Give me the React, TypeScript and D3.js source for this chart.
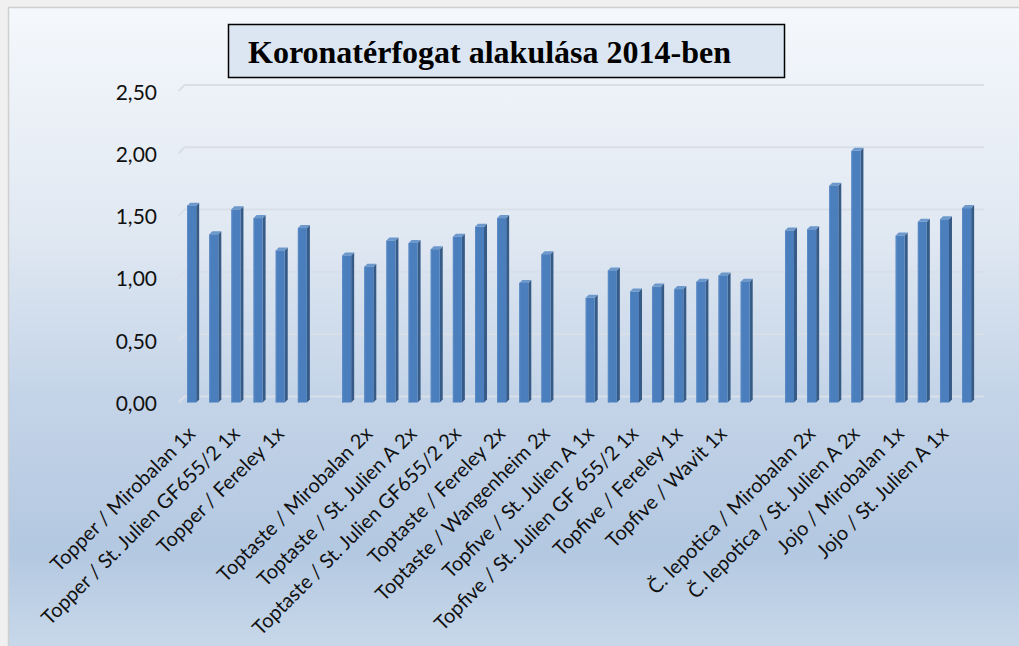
import React from 'react';
import * as d3 from 'd3';

// 36 slots on the category axis; '' / null = empty spacer between groups
const categories = [
  'Topper / Mirobalan 1x', 'Topper / Mirobalan 2x', 'Topper / St. Julien GF655/2 1x', 'Topper / St. Julien GF655/2 2x',
  'Topper / Fereley 1x', 'Topper / Fereley 2x', '',
  'Toptaste / Mirobalan 1x', 'Toptaste / Mirobalan 2x', 'Toptaste / St. Julien A 1x', 'Toptaste / St. Julien A 2x',
  'Toptaste / St. Julien GF655/2 1x', 'Toptaste / St. Julien GF655/2 2x', 'Toptaste / Fereley 1x', 'Toptaste / Fereley 2x',
  'Toptaste / Wangenheim 1x', 'Toptaste / Wangenheim 2x', '',
  'Topfive / St. Julien A 1x', 'Topfive / St. Julien A 2x', 'Topfive / St. Julien GF 655/2 1x', 'Topfive / St. Julien GF 655/2 2x',
  'Topfive / Fereley 1x', 'Topfive / Fereley 2x', 'Topfive / Wavit 1x', 'Topfive / Wavit 2x', '',
  'Č. lepotica / Mirobalan 1x', 'Č. lepotica / Mirobalan 2x', 'Č. lepotica / St. Julien A 1x', 'Č. lepotica / St. Julien A 2x', '',
  'Jojo / Mirobalan 1x', 'Jojo / Mirobalan 2x', 'Jojo / St. Julien A 1x', 'Jojo / St. Julien A 2x',
];

const values: (number | null)[] = [
  1.58, 1.35, 1.55, 1.48, 1.22, 1.40, null,
  1.18, 1.09, 1.30, 1.28, 1.23, 1.33, 1.41, 1.48, 0.96, 1.19, null,
  0.84, 1.06, 0.89, 0.93, 0.91, 0.97, 1.02, 0.97, null,
  1.38, 1.39, 1.74, 2.02, null,
  1.34, 1.45, 1.47, 1.56,
];

const yTicks = [0, 0.5, 1, 1.5, 2, 2.5];
const title = 'Koronatérfogat alakulása 2014-ben';

const W = 1019;
const H = 646;
const fmt = (v: number) => v.toFixed(2).replace('.', ',');

export default function App() {
  const x = d3.scaleBand<number>()
    .domain(d3.range(categories.length))
    .range([180.6, 977.7])
    .padding(0);
  const y = d3.scaleLinear().domain([0, 2.5]).range([402.5, 91]);

  const fw = 9;   // front face width
  const dd = 3;   // bar depth offset
  const wall = 6; // back wall offset for gridlines

  return (
    <div style={{ position: 'absolute', left: 0, top: 0 }}>
      <svg width={W} height={H} style={{ display: 'block' }}>
        <defs>
          <linearGradient id="bg" x1="0" y1="0" x2="0" y2="1">
            <stop offset="0" stopColor="#f5f8fc" />
            <stop offset="0.35" stopColor="#e0e8f2" />
            <stop offset="0.6" stopColor="#c4d4e8" />
            <stop offset="0.84" stopColor="#b3c8e1" />
            <stop offset="1" stopColor="#c9d9ea" />
          </linearGradient>
        </defs>
        <rect x={0} y={0} width={W} height={H} fill="#f0f0f0" />
        <rect x={8.5} y={7.5} width={W} height={H} fill="url(#bg)" stroke="#cfcfcf" strokeWidth={1.5} />

        {/* gridlines on back wall */}
        {yTicks.map((t) => (
          <path
            key={'g' + t}
            d={`M${x.range()[0] - 2},${y(t)} L${x.range()[0] + wall - 2},${y(t) - wall} L${984},${y(t) - wall}`}
            fill="none"
            stroke="#d9dfe8"
            strokeWidth={2}
          />
        ))}

        {/* y tick labels */}
        {yTicks.map((t) => (
          <text
            key={'t' + t}
            x={157}
            y={y(t)}
            textAnchor="end"
            dominantBaseline="central"
            fontFamily="Lato, sans-serif"
            fontSize={21}
            fill="#111"
          >
            {fmt(t)}
          </text>
        ))}

        {/* bars */}
        {values.map((v, i) => {
          if (v == null) return null;
          const cx = (x(i) as number) + x.bandwidth() / 2;
          const x0 = cx - fw / 2;
          const x1 = x0 + fw;
          const yt = y(v);
          const yb = y(0);
          return (
            <g key={'b' + i}>
              <polygon
                points={`${x1},${yt} ${x1 + dd},${yt - dd} ${x1 + dd},${yb - dd} ${x1},${yb}`}
                fill="#375b87"
              />
              <polygon
                points={`${x0},${yt} ${x0 + dd},${yt - dd} ${x1 + dd},${yt - dd} ${x1},${yt}`}
                fill="#6d98cc"
              />
              <rect x={x0} y={yt} width={fw} height={yb - yt} fill="#4a7ebd" />
              <rect x={x0} y={yt} width={1} height={yb - yt} fill="#5b8bc6" />
            </g>
          );
        })}

        {/* category labels, every second one shown */}
        {categories.map((c, i) => {
          if (i % 2 !== 0 || !c) return null;
          const cx = (x(i) as number) + x.bandwidth() / 2;
          return (
            <text
              key={'c' + i}
              transform={`translate(${cx + 5},${435}) rotate(-45)`}
              textAnchor="end"
              fontFamily="Lato, sans-serif"
              fontSize={20}
              fill="#111"
            >
              {c}
            </text>
          );
        })}

        {/* title */}
        <rect x={228.5} y={24.5} width={556} height={53} fill="#dce6f2" stroke="#000" strokeWidth={1.5} />
        <text
          x={248}
          y={63}
          fontFamily="'Liberation Serif', 'Times New Roman', serif"
          fontWeight="bold"
          fontSize={32}
          fill="#000"
        >
          {title}
        </text>
      </svg>
    </div>
  );
}
